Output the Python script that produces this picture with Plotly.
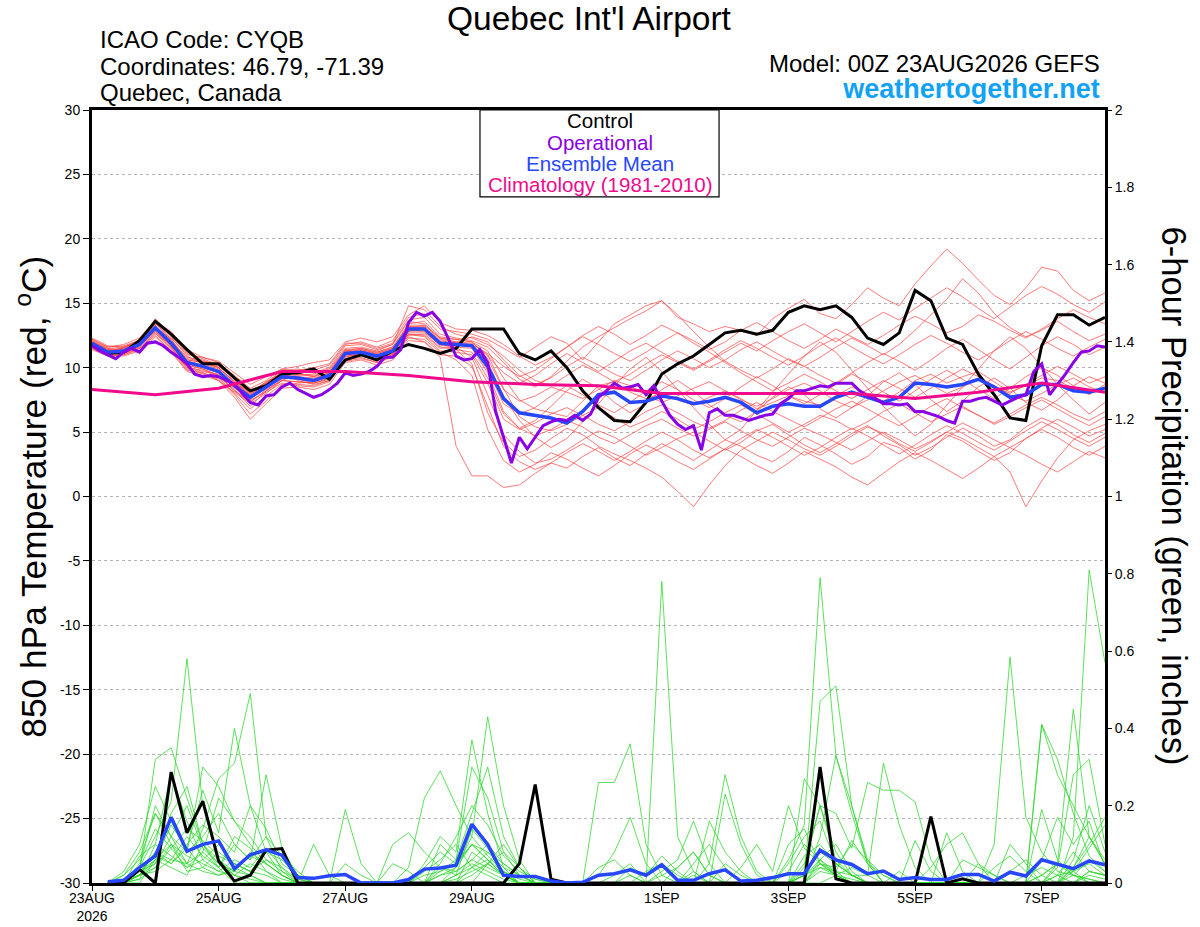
import plotly.graph_objects as go

FONT = "Liberation Sans, Arial, sans-serif"

# forecast hours (6-hourly ensemble, 3-hourly operational, daily climatology)
hours = list(range(0, 385, 6))
hours_op = list(range(0, 385, 3))
precip_hours = hours[1:]
clim_hours = list(range(0, 385, 24))

tick_hours = [0, 48, 96, 144, 216, 264, 312, 360]
tick_text = ["23AUG<br>2026", "25AUG", "27AUG", "29AUG", "1SEP", "3SEP", "5SEP", "7SEP"]

temp_ticks = list(range(-30, 31, 5))
precip_ticks = [0, 0.2, 0.4, 0.6, 0.8, 1.0, 1.2, 1.4, 1.6, 1.8, 2.0]
precip_tick_text = ["0", "0.2", "0.4", "0.6", "0.8", "1", "1.2", "1.4", "1.6", "1.8", "2"]

# ===============================
# 850 hPa temperature (C)
# ===============================
t_control = [11.8, 11.1, 11.2, 12.1, 13.6, 12.6, 11.4, 10.3, 10.3, 9.2, 8.2, 8.6,
             9.5, 9.6, 9.9, 9.1, 10.6, 11.0, 10.6, 11.3, 11.8, 11.5, 11.1, 11.5,
             13.0, 13.0, 13.0, 11.1, 10.6, 11.3, 10.0, 8.2, 6.9, 5.9, 5.8, 7.3,
             9.5, 10.3, 10.9, 11.8, 12.7, 12.9, 12.6, 12.9, 14.3, 14.8, 14.5, 14.8,
             13.9, 12.3, 11.8, 12.7, 16.0, 15.2, 12.3, 11.8, 9.5, 7.9, 6.1, 5.9,
             11.7, 14.1, 14.1, 13.3, 13.9]

t_mean = [11.9, 11.2, 11.3, 11.8, 13.1, 11.9, 10.4, 10.1, 9.7, 8.6, 7.7, 8.5,
          9.3, 9.2, 9.0, 9.4, 11.1, 11.2, 10.9, 11.3, 13.0, 13.0, 11.9, 11.8,
          11.7, 10.1, 7.6, 6.5, 6.3, 6.1, 5.7, 6.6, 7.9, 8.1, 7.3, 7.4,
          7.8, 7.6, 7.2, 7.4, 7.7, 7.3, 6.5, 7.0, 7.2, 7.0, 7.0, 7.7,
          8.1, 7.7, 7.3, 7.7, 8.8, 8.7, 8.5, 8.7, 9.1, 8.5, 7.7, 7.9,
          8.7, 8.7, 8.2, 8.1, 8.4]

t_oper = [11.7, 11.3, 11.0, 10.7, 11.2, 11.5, 11.2, 11.9,
          12.0, 11.7, 11.2, 10.8, 10.3, 9.5, 9.3, 9.4,
          9.3, 9.0, 8.7, 8.0, 7.3, 7.1, 7.8, 7.9,
          8.5, 8.8, 8.3, 8.0, 7.7, 7.9, 8.3, 8.8,
          9.6, 9.4, 9.5, 9.7, 10.1, 10.8, 10.8, 11.4,
          13.5, 14.3, 14.0, 14.3, 13.6, 12.3, 10.9, 10.6,
          10.7, 11.4, 10.4, 6.6, 4.6, 2.6, 4.6, 3.7,
          4.6, 5.5, 5.8, 6.0, 5.9, 6.3, 5.9, 6.4,
          7.7, 8.2, 8.8, 8.4, 8.5, 8.7, 7.9, 8.6,
          7.4, 6.3, 5.6, 5.2, 5.5, 3.6, 6.5, 6.8,
          6.3, 6.3, 6.1, 5.9, 6.1, 6.3, 6.4, 7.2,
          7.6, 8.2, 8.2, 8.4, 8.6, 8.5, 8.8, 8.8,
          8.8, 8.2, 7.8, 7.6, 7.2, 7.2, 7.1, 7.2,
          6.6, 6.6, 6.4, 6.2, 5.9, 5.7, 7.4, 7.4,
          7.6, 7.7, 7.4, 7.1, 7.4, 7.7, 7.9, 9.7,
          10.3, 7.9, 8.7, 9.5, 10.4, 11.2, 11.3, 11.7,
          11.6]

t_clim = [8.3, 7.9, 8.4, 9.7, 9.7, 9.4, 8.9, 8.7, 8.6, 8.0, 8.0, 8.0, 8.0, 7.6, 8.1, 8.8, 8.1]

# ensemble members
t_m01 = [12.1, 11.5, 11.6, 12.0, 13.8, 12.6, 11.2, 10.5, 10.3, 9.4, 8.4, 9.0, 9.9, 9.6, 9.8, 10.2, 11.8, 12.0, 11.6, 12.1, 13.9, 14.2, 13.0, 12.8, 12.6, 12.2,
         11.5, 10.8, 11.6, 12.4, 11.9, 10.6, 12.0, 13.4, 14.1, 14.8, 15.2, 13.9, 13.4, 12.8, 13.2, 12.9, 12.5, 13.8, 14.6, 15.3, 14.2, 13.8, 14.9, 16.2, 15.4, 14.8, 16.5, 17.9, 19.2, 18.1, 16.8, 15.6, 14.9, 16.2, 17.8, 17.5, 16.0, 15.2, 15.8]
t_m02 = [11.6, 11.0, 11.4, 11.9, 12.8, 11.5, 10.0, 9.6, 9.0, 8.1, 7.2, 8.0, 9.0, 9.5, 9.3, 9.8, 11.4, 11.0, 10.6, 11.0, 12.4, 12.0, 10.8, 3.9, 1.6, 1.6,
         0.7, 0.9, 1.8, 2.6, 2.2, 3.1, 3.8, 3.0, 2.4, 3.3, 4.1, 3.5, 2.8, 3.6, 4.4, 3.9, 3.2, 2.7, 3.5, 4.6, 4.0, 3.3, 2.5, 3.1, 4.2, 3.8, 2.9, 3.6, 4.8, 4.3, 3.5, 2.8, 3.4, 4.5, 5.2, 4.6, 3.8, 3.2, 3.9]
t_m03 = [12.0, 11.4, 11.2, 11.6, 12.9, 12.2, 10.6, 10.4, 10.0, 8.9, 7.9, 8.8, 9.6, 9.0, 8.7, 9.0, 10.7, 11.0, 10.5, 11.0, 12.6, 12.5, 11.5, 11.6, 10.8, 7.9,
         4.8, 3.5, 2.6, 2.9, 3.6, 4.4, 5.1, 4.6, 3.9, 3.2, 3.8, 4.5, 5.0, 4.3, 3.6, 4.2, 5.1, 5.6, 4.8, 4.0, 3.4, 4.1, 4.9, 5.5, 4.7, 4.0, 3.2, 3.8, 4.6, 5.3, 4.7, 3.9, 4.4, 5.4, 6.1, 5.6, 4.8, 4.2, 4.9]
t_m04 = [11.7, 11.1, 11.5, 12.2, 13.5, 12.0, 10.2, 9.9, 9.4, 8.3, 7.0, 8.2, 9.1, 9.4, 9.5, 9.9, 11.5, 11.6, 11.3, 11.8, 13.6, 13.4, 12.3, 12.0, 11.9, 11.0,
         8.4, 6.2, 5.4, 5.1, 5.6, 6.3, 6.9, 6.1, 5.4, 5.9, 6.6, 6.0, 5.2, 5.8, 6.5, 7.1, 6.4, 5.7, 5.0, 5.6, 6.3, 5.9, 5.2, 5.8, 6.6, 7.2, 6.5, 5.8, 6.4, 7.0, 6.3, 5.6, 6.2, 6.9, 7.5, 6.8, 6.1, 5.5, 6.2]
t_m05 = [12.2, 11.6, 11.7, 12.1, 13.3, 11.6, 10.1, 9.7, 9.5, 8.8, 8.1, 8.9, 9.5, 9.2, 9.1, 9.6, 11.3, 11.5, 11.2, 11.6, 13.4, 13.6, 12.4, 12.2, 12.0, 11.3,
         9.2, 7.5, 6.8, 6.5, 6.2, 7.4, 8.6, 8.9, 8.1, 7.6, 8.0, 7.5, 7.1, 7.7, 8.2, 7.6, 6.8, 7.3, 7.8, 7.4, 7.1, 7.8, 8.5, 8.0, 7.4, 8.1, 9.0, 9.5, 8.8, 9.3, 9.7, 8.9, 8.1, 8.6, 9.2, 9.0, 8.4, 8.1, 8.5]
t_m06 = [11.8, 11.3, 11.5, 12.0, 13.0, 12.3, 11.0, 10.8, 10.5, 9.6, 8.7, 9.3, 9.9, 10.1, 10.4, 10.6, 12.0, 12.3, 12.0, 12.4, 14.1, 14.8, 13.5, 13.0, 12.9, 12.5,
         11.8, 10.9, 10.2, 10.8, 11.6, 12.4, 11.8, 11.1, 10.5, 11.2, 12.0, 12.7, 12.1, 11.4, 12.0, 12.9, 13.5, 12.8, 12.1, 11.5, 12.2, 13.0, 12.4, 11.8, 12.5, 13.3, 14.0, 13.4, 12.7, 13.2, 14.1, 13.6, 12.9, 12.3, 13.0, 13.8, 14.5, 13.9, 13.4]
t_m07 = [11.5, 10.9, 11.0, 11.4, 12.6, 11.8, 10.5, 10.2, 9.8, 8.5, 7.5, 8.1, 8.8, 8.6, 8.5, 8.9, 10.6, 10.8, 10.4, 10.9, 12.5, 12.6, 11.6, 11.4, 11.2, 9.2,
         6.4, 5.3, 5.9, 7.0, 8.2, 9.1, 8.4, 7.3, 6.5, 7.2, 8.3, 9.0, 8.2, 7.1, 6.3, 5.8, 6.6, 7.7, 8.5, 7.9, 6.8, 6.1, 6.9, 7.8, 8.9, 9.6, 8.7, 7.5, 6.6, 7.4, 8.5, 9.2, 8.4, 7.3, 6.7, 7.5, 8.6, 9.3, 8.8]
t_m08 = [12.3, 11.7, 11.6, 11.9, 13.2, 12.1, 10.8, 10.6, 10.1, 9.2, 8.3, 8.7, 9.4, 9.3, 9.2, 9.5, 11.2, 11.4, 11.1, 11.5, 13.2, 13.1, 12.0, 11.9, 12.4, 12.0,
         10.6, 9.4, 8.7, 9.2, 10.1, 10.8, 10.2, 9.5, 9.0, 9.8, 10.6, 11.3, 10.7, 10.0, 10.6, 11.4, 12.0, 11.3, 10.6, 10.1, 10.8, 11.6, 12.3, 11.7, 11.0, 11.8, 12.9, 14.1, 15.3, 16.9, 15.8, 14.2, 13.1, 12.4, 12.9, 13.6, 12.8, 12.1, 12.6]
t_m09 = [11.9, 11.3, 11.1, 11.5, 12.7, 11.4, 9.9, 9.5, 9.1, 7.9, 6.4, 7.4, 8.6, 8.8, 8.9, 9.3, 10.9, 11.0, 10.7, 11.1, 12.8, 12.9, 11.9, 11.4, 10.3, 6.5,
         4.2, 3.1, 3.6, 4.5, 5.3, 4.8, 3.9, 3.3, 2.8, 2.2, 1.5, 0.4, -0.8, 0.9, 2.4, 3.6, 4.3, 5.0, 4.4, 3.7, 3.2, 3.9, 4.7, 5.4, 4.9, 4.1, 3.5, 4.2, 5.0, 5.7, 5.1, 4.4, 3.8, 4.5, 5.3, 6.0, 5.4, 4.7, 5.2]
t_m10 = [11.6, 11.2, 11.4, 11.7, 12.9, 11.7, 10.3, 10.0, 9.6, 8.4, 7.6, 8.4, 9.2, 9.1, 8.8, 9.2, 11.0, 11.1, 10.8, 11.2, 12.9, 12.8, 11.7, 11.7, 11.8, 10.7,
         8.3, 7.4, 7.8, 8.5, 8.1, 7.6, 8.3, 9.0, 8.6, 7.9, 7.3, 7.8, 8.4, 8.9, 8.2, 7.5, 7.0, 7.6, 8.3, 8.8, 8.2, 7.4, 6.9, 7.5, 8.2, 8.9, 9.4, 8.7, 8.0, 8.5, 9.1, 8.6, 7.9, 7.4, 8.0, 8.7, 9.2, 8.5, 8.1]
t_m11 = [12.0, 11.5, 11.3, 11.8, 13.4, 12.4, 10.9, 10.3, 9.9, 9.0, 8.0, 8.6, 9.7, 9.8, 10.0, 10.3, 11.9, 11.9, 11.5, 11.9, 13.7, 13.9, 12.6, 12.3, 12.1, 11.6,
         10.4, 9.1, 8.5, 9.3, 10.5, 11.6, 12.4, 13.1, 13.8, 14.4, 15.2, 14.1, 12.8, 11.6, 10.5, 9.8, 9.2, 9.9, 10.7, 10.1, 9.4, 8.8, 9.6, 10.4, 11.1, 10.5, 9.8, 10.6, 11.5, 12.2, 11.4, 10.6, 9.9, 10.8, 11.7, 12.4, 11.8, 11.0, 11.6]
t_m12 = [11.8, 11.0, 11.2, 11.7, 13.0, 11.6, 10.0, 9.8, 9.3, 8.2, 7.3, 8.3, 9.0, 8.9, 8.8, 9.1, 10.8, 11.2, 10.9, 11.1, 12.7, 12.7, 11.8, 11.6, 11.5, 9.6,
         6.6, 5.3, 4.7, 5.2, 5.9, 5.4, 4.6, 4.1, 4.8, 5.5, 6.0, 5.3, 4.7, 5.2, 5.8, 5.1, 4.4, 3.9, 4.6, 5.3, 4.8, 4.2, 3.6, 4.3, 5.0, 4.4, 3.7, 4.3, 5.0, 4.5, 3.8, 3.1, 1.9, -0.8, 1.2, 3.0, 4.4, 5.1, 5.6]
t_m13 = [12.1, 11.4, 11.3, 11.9, 13.6, 12.8, 11.4, 10.8, 10.4, 9.3, 8.2, 8.8, 9.8, 9.9, 9.6, 10.0, 11.7, 11.8, 11.4, 11.8, 14.8, 14.5, 13.2, 12.6, 12.3, 11.8,
         10.9, 9.8, 9.0, 8.6, 9.4, 10.2, 9.6, 8.9, 9.5, 10.3, 11.0, 10.4, 9.8, 10.5, 11.2, 11.9, 11.3, 12.1, 12.8, 13.4, 12.7, 12.0, 12.8, 13.6, 14.3, 13.7, 14.6, 15.4, 16.2, 15.5, 14.6, 13.8, 14.7, 15.6, 16.3, 15.7, 14.9, 14.3, 15.1]
t_m14 = [11.7, 11.2, 11.0, 11.5, 12.5, 11.3, 9.8, 9.6, 9.2, 8.0, 6.8, 7.8, 8.7, 8.7, 8.6, 9.0, 10.5, 10.7, 10.4, 10.8, 12.3, 12.2, 11.2, 10.6, 9.4, 5.2,
         2.8, 1.9, 2.5, 3.4, 2.9, 2.2, 1.6, 2.4, 3.3, 4.0, 3.4, 2.7, 2.1, 2.9, 3.7, 3.1, 2.4, 1.8, 2.6, 3.5, 2.9, 2.3, 1.5, 0.9, 1.8, 2.7, 3.4, 2.8, 2.1, 1.4, 2.2, 3.1, 3.8, 3.2, 2.5, 1.9, 2.7, 3.5, 3.0]
t_m15 = [11.9, 11.3, 11.4, 11.8, 13.0, 11.9, 10.5, 10.2, 9.7, 8.7, 7.8, 8.6, 9.4, 9.3, 9.1, 9.5, 11.2, 11.3, 11.0, 11.4, 13.1, 13.2, 12.1, 11.9, 11.6, 9.8,
         7.2, 6.4, 6.9, 7.8, 8.6, 7.9, 7.1, 6.5, 7.3, 8.2, 8.9, 8.3, 7.5, 6.9, 7.6, 8.5, 9.3, 8.6, 7.8, 7.2, 7.9, 8.7, 9.5, 8.9, 8.1, 7.4, 8.2, 9.1, 9.8, 9.1, 8.3, 7.6, 8.4, 9.3, 10.0, 9.4, 8.6, 7.9, 8.7]
t_m16 = [12.2, 11.6, 11.8, 12.3, 13.7, 12.5, 11.1, 10.7, 10.2, 9.1, 8.0, 8.9, 9.6, 9.5, 9.4, 9.7, 11.4, 11.5, 11.2, 11.6, 13.3, 13.3, 12.3, 12.2, 12.0, 10.9,
         9.6, 8.8, 9.4, 10.3, 11.1, 10.4, 9.7, 10.5, 11.3, 11.9, 11.2, 10.5, 9.9, 10.6, 11.4, 12.1, 11.5, 10.8, 10.2, 10.9, 11.7, 12.3, 11.6, 10.9, 10.3, 11.0, 11.8, 12.5, 11.9, 11.2, 10.6, 11.3, 12.1, 12.8, 12.2, 11.5, 10.9, 11.6, 12.2]
t_m17 = [11.4, 10.9, 11.1, 11.6, 12.8, 11.7, 10.2, 9.9, 9.4, 8.2, 7.4, 8.2, 9.0, 8.9, 8.8, 9.2, 10.9, 11.0, 10.6, 11.0, 12.6, 12.4, 11.3, 11.2, 11.0, 8.8,
         6.0, 5.2, 5.7, 6.4, 6.9, 6.3, 5.6, 5.1, 5.8, 6.6, 7.1, 6.5, 5.8, 5.3, 5.9, 6.7, 7.3, 6.6, 6.0, 5.4, 6.1, 6.8, 7.4, 6.8, 6.1, 5.5, 6.2, 7.0, 7.6, 6.9, 6.3, 5.7, 6.4, 7.1, 7.7, 7.1, 6.4, 5.9, 6.6]
t_m18 = [12.0, 11.2, 11.6, 12.1, 13.2, 12.0, 10.7, 10.5, 10.0, 8.8, 7.9, 8.7, 9.5, 9.6, 9.3, 9.6, 11.3, 11.4, 11.1, 11.5, 13.2, 13.0, 12.0, 11.9, 11.7, 10.4,
         7.8, 5.9, 4.6, 3.8, 4.5, 5.8, 7.2, 8.6, 9.9, 10.8, 9.7, 8.3, 6.9, 5.6, 4.4, 5.2, 6.7, 8.1, 9.5, 10.9, 12.0, 11.2, 9.8, 8.4, 7.0, 5.8, 4.7, 5.6, 7.1, 8.5, 9.9, 11.3, 12.4, 11.5, 10.1, 8.7, 7.5, 6.4, 7.3]
t_m19 = [11.8, 11.4, 11.5, 12.0, 13.5, 12.2, 10.6, 10.4, 10.0, 8.9, 7.8, 8.6, 9.4, 9.1, 9.0, 9.4, 11.0, 11.3, 11.0, 11.4, 13.1, 13.3, 12.2, 12.0, 11.8, 11.1,
         10.1, 9.3, 9.8, 10.7, 11.6, 12.5, 13.2, 12.6, 11.8, 12.5, 13.3, 12.7, 11.9, 11.2, 10.4, 9.6, 8.9, 8.2, 8.8, 9.5, 8.9, 8.2, 7.6, 8.3, 9.0, 8.4, 7.7, 8.4, 9.2, 9.9, 9.3, 8.6, 8.0, 8.7, 9.4, 10.1, 9.5, 8.8, 9.3]
t_m20 = [11.5, 11.0, 10.9, 11.3, 12.4, 11.2, 9.7, 9.4, 9.0, 7.7, 6.0, 7.2, 8.4, 8.5, 8.3, 8.7, 10.4, 10.6, 10.2, 10.6, 12.1, 12.0, 11.0, 10.9, 10.1, 7.0,
         3.9, 2.7, 2.1, 2.6, 3.4, 4.1, 3.5, 2.8, 3.5, 4.3, 5.0, 4.4, 3.6, 3.0, 3.7, 4.5, 5.2, 4.6, 3.9, 3.2, 3.8, 4.6, 5.3, 4.7, 4.0, 3.3, 4.0, 4.8, 5.5, 4.9, 4.2, 3.6, 4.3, 5.1, 5.8, 5.2, 4.5, 3.9, 4.6]

temp_members = [t_m01, t_m02, t_m03, t_m04, t_m05, t_m06, t_m07, t_m08, t_m09, t_m10,
                t_m11, t_m12, t_m13, t_m14, t_m15, t_m16, t_m17, t_m18, t_m19, t_m20]

# ===============================
# 6-hour precipitation (inches), from hour 6
# ===============================
p_control = [0, 0, 0.035, 0, 0.287, 0.13, 0.212, 0.057, 0.005, 0.02, 0.085, 0.089,
             0, 0, 0, 0, 0, 0, 0, 0, 0, 0, 0, 0,
             0, 0, 0.05, 0.255, 0.01, 0, 0, 0, 0, 0, 0, 0,
             0, 0, 0, 0, 0, 0, 0, 0, 0, 0.30, 0.011, 0,
             0, 0, 0, 0, 0.172, 0, 0.011, 0, 0, 0, 0, 0,
             0, 0, 0, 0]

p_mean = [0.003, 0.007, 0.04, 0.07, 0.17, 0.082, 0.10, 0.109, 0.037, 0.073, 0.086, 0.072,
          0.014, 0.012, 0.019, 0.022, 0, 0, 0, 0.009, 0.036, 0.039, 0.046, 0.152,
          0.10, 0.02, 0.017, 0.017, 0.005, 0, 0.002, 0.02, 0.024, 0.034, 0.02, 0.047,
          0.007, 0.007, 0.024, 0.034, 0.005, 0.007, 0.014, 0.024, 0.024, 0.085, 0.06, 0.048,
          0.024, 0.031, 0.009, 0.014, 0.009, 0.009, 0.022, 0.022, 0.005, 0.028, 0.018, 0.06,
          0.048, 0.037, 0.057, 0.047]

p_m01 = [0, 0, 0.04, 0.12, 0.21, 0.58, 0.20, 0.06, 0.02, 0, 0, 0, 0, 0, 0, 0, 0, 0, 0, 0, 0.05, 0.12, 0.08, 0.37, 0.18, 0.04, 0, 0, 0, 0, 0, 0,
         0.02, 0.05, 0, 0.78, 0.12, 0.03, 0, 0, 0, 0, 0, 0, 0.04, 0.20, 0.08, 0.02, 0, 0, 0, 0, 0, 0, 0, 0, 0, 0.03, 0.06, 0.02, 0, 0.04, 0.12, 0.05]
p_m02 = [0, 0.02, 0.08, 0.18, 0.10, 0.05, 0.14, 0.27, 0.31, 0.49, 0.12, 0.03, 0, 0, 0, 0, 0, 0, 0, 0, 0, 0, 0.04, 0.10, 0.06, 0.02, 0, 0, 0, 0, 0, 0,
         0, 0, 0, 0.02, 0.04, 0.08, 0.02, 0, 0, 0, 0, 0.06, 0.15, 0.79, 0.33, 0.18, 0.05, 0, 0.03, 0, 0, 0, 0, 0, 0, 0, 0, 0.02, 0.05, 0.03, 0, 0]
p_m03 = [0, 0, 0.03, 0.32, 0.35, 0.22, 0.10, 0.04, 0, 0, 0, 0, 0, 0, 0, 0, 0, 0, 0, 0.04, 0.22, 0.29, 0.20, 0.12, 0.43, 0.20, 0.06, 0, 0, 0, 0, 0,
         0, 0, 0, 0, 0, 0, 0.05, 0.28, 0.12, 0.03, 0, 0, 0, 0.05, 0.02, 0, 0, 0, 0, 0, 0, 0, 0, 0, 0, 0, 0, 0.41, 0.32, 0.18, 0.07, 0.03]
p_m04 = [0, 0, 0, 0.06, 0.15, 0.09, 0.24, 0.13, 0.40, 0.20, 0.08, 0.02, 0, 0, 0, 0.19, 0.05, 0, 0, 0, 0, 0.03, 0.06, 0.30, 0.22, 0.08, 0.02, 0, 0, 0, 0, 0.26,
         0.26, 0.36, 0.10, 0.02, 0, 0, 0, 0, 0, 0, 0, 0, 0.02, 0.47, 0.51, 0.20, 0.06, 0, 0, 0, 0, 0, 0, 0, 0, 0.10, 0.05, 0, 0, 0.12, 0.81, 0.57]
p_m05 = [0, 0.03, 0.10, 0.25, 0.16, 0.08, 0.12, 0.18, 0.10, 0.06, 0.28, 0.09, 0.02, 0, 0, 0, 0, 0, 0, 0, 0, 0, 0, 0, 0.05, 0.10, 0.04, 0, 0, 0, 0, 0.02,
         0.08, 0.17, 0.05, 0, 0, 0, 0.16, 0.08, 0.03, 0, 0, 0, 0.05, 0.20, 0.18, 0.09, 0.26, 0.24, 0.24, 0.21, 0.06, 0, 0, 0, 0, 0, 0, 0.19, 0.06, 0.02, 0, 0]
p_m06 = [0, 0, 0.05, 0.14, 0.09, 0.04, 0.08, 0.22, 0.16, 0.12, 0.06, 0.03, 0.01, 0, 0, 0, 0, 0, 0.10, 0.13, 0.08, 0.04, 0.02, 0.14, 0.09, 0.03, 0, 0, 0, 0, 0, 0,
         0, 0.04, 0.02, 0.07, 0.03, 0, 0, 0.23, 0.10, 0.02, 0, 0, 0, 0.12, 0.33, 0.20, 0.05, 0, 0, 0.11, 0.03, 0, 0, 0, 0, 0, 0, 0, 0.04, 0.28, 0.32, 0.10]
p_m07 = [0, 0.02, 0.06, 0.18, 0.12, 0.20, 0.09, 0.05, 0.03, 0.02, 0, 0, 0, 0.10, 0.02, 0, 0, 0, 0, 0, 0.04, 0.08, 0.05, 0.10, 0.06, 0.02, 0, 0, 0, 0, 0, 0,
         0, 0.02, 0, 0.03, 0.06, 0.16, 0.05, 0, 0, 0, 0, 0, 0.27, 0.20, 0.06, 0.02, 0, 0, 0, 0, 0, 0.13, 0.03, 0, 0, 0, 0, 0, 0, 0.06, 0.20, 0.08]
p_m08 = [0, 0, 0.02, 0.08, 0.05, 0.10, 0.15, 0.12, 0.08, 0.20, 0.14, 0.05, 0.02, 0, 0, 0, 0, 0, 0, 0, 0, 0.05, 0.12, 0.20, 0.15, 0.07, 0.03, 0.01, 0, 0, 0, 0,
         0, 0, 0.03, 0.05, 0.02, 0, 0, 0, 0.04, 0.10, 0.03, 0.20, 0.09, 0.05, 0.02, 0, 0, 0, 0, 0, 0.04, 0.10, 0.13, 0.05, 0, 0, 0, 0.06, 0.17, 0.10, 0.16, 0.04]
p_m09 = [0, 0, 0.07, 0.10, 0.28, 0.16, 0.06, 0.10, 0.05, 0.03, 0.08, 0.06, 0.02, 0, 0, 0, 0, 0, 0, 0, 0, 0.10, 0.06, 0.18, 0.30, 0.12, 0.04, 0, 0, 0, 0, 0,
         0, 0, 0, 0, 0, 0.05, 0.10, 0.04, 0, 0, 0, 0, 0.07, 0.10, 0.05, 0.02, 0.02, 0.31, 0.15, 0.04, 0, 0, 0, 0, 0, 0, 0, 0, 0, 0.03, 0.09, 0.15]
p_m10 = [0, 0, 0.03, 0.05, 0.12, 0.08, 0.30, 0.25, 0.16, 0.10, 0.05, 0.02, 0, 0, 0, 0, 0, 0, 0, 0, 0, 0, 0, 0.08, 0.05, 0.02, 0, 0, 0, 0, 0, 0,
         0, 0, 0, 0, 0, 0, 0, 0, 0, 0, 0, 0.03, 0.10, 0.06, 0.02, 0, 0, 0, 0, 0, 0, 0, 0, 0, 0.10, 0.585, 0.17, 0.08, 0.03, 0.02, 0.01, 0]
p_m11 = [0, 0, 0.02, 0.04, 0.10, 0.07, 0.05, 0.03, 0.06, 0.04, 0.09, 0.04, 0, 0, 0, 0, 0, 0, 0, 0, 0.02, 0.03, 0.05, 0.10, 0.08, 0.04, 0.02, 0, 0, 0, 0, 0,
         0, 0, 0, 0, 0.04, 0.08, 0.02, 0, 0, 0, 0, 0.10, 0.14, 0.05, 0.04, 0.10, 0.06, 0.02, 0, 0, 0, 0, 0, 0, 0, 0, 0, 0.02, 0.05, 0.45, 0.12, 0.05]
p_m12 = [0, 0, 0.04, 0.20, 0.12, 0.05, 0.03, 0.02, 0.04, 0.02, 0, 0, 0, 0, 0, 0, 0, 0, 0, 0, 0, 0.04, 0.03, 0.06, 0.10, 0.05, 0.02, 0, 0, 0, 0, 0,
         0, 0, 0, 0, 0, 0, 0, 0, 0, 0, 0, 0, 0.02, 0.06, 0.03, 0.11, 0.05, 0.02, 0, 0, 0, 0, 0, 0, 0, 0, 0, 0.41, 0.28, 0.20, 0.12, 0.06]
p_m13 = [0, 0, 0.02, 0.08, 0.06, 0.12, 0.07, 0.04, 0.10, 0.06, 0.12, 0.07, 0.03, 0, 0, 0.05, 0.02, 0, 0, 0, 0, 0, 0, 0.04, 0.08, 0.05, 0.02, 0, 0, 0, 0, 0,
         0, 0, 0, 0, 0, 0.02, 0, 0, 0, 0, 0, 0.05, 0.12, 0.16, 0.05, 0.02, 0, 0, 0, 0, 0, 0, 0.06, 0.04, 0.02, 0, 0, 0, 0.02, 0.08, 0.03, 0.02]
p_m14 = [0, 0, 0.01, 0.04, 0.09, 0.14, 0.11, 0.07, 0.05, 0.03, 0.02, 0, 0, 0, 0, 0, 0, 0, 0, 0, 0, 0.02, 0.04, 0.12, 0.07, 0.03, 0, 0, 0, 0, 0, 0,
         0, 0, 0, 0, 0, 0, 0, 0.05, 0.02, 0, 0, 0, 0, 0.04, 0.02, 0, 0, 0, 0, 0, 0, 0, 0, 0, 0.04, 0.07, 0.03, 0, 0, 0.02, 0.06, 0.03]
p_m15 = [0, 0, 0.03, 0.06, 0.04, 0.02, 0.10, 0.06, 0.03, 0.08, 0.05, 0.02, 0, 0, 0, 0, 0, 0, 0.05, 0.03, 0, 0, 0.02, 0.05, 0.03, 0.01, 0, 0, 0, 0, 0, 0,
         0, 0, 0, 0, 0, 0, 0, 0, 0, 0, 0, 0, 0.02, 0.05, 0.03, 0.02, 0, 0, 0, 0, 0, 0, 0, 0, 0, 0, 0, 0, 0, 0.04, 0.10, 0.17]
p_m16 = [0, 0.01, 0.02, 0.05, 0.18, 0.25, 0.10, 0.05, 0.02, 0.01, 0, 0, 0, 0, 0, 0, 0, 0, 0, 0, 0.03, 0.06, 0.10, 0.04, 0.02, 0, 0, 0, 0, 0, 0, 0.04,
         0.06, 0.02, 0, 0, 0, 0, 0, 0, 0, 0, 0, 0, 0, 0.06, 0.10, 0.03, 0, 0, 0, 0, 0, 0, 0, 0.05, 0.02, 0, 0, 0, 0, 0, 0.03, 0.02]
p_m17 = [0, 0, 0.02, 0.03, 0.06, 0.05, 0.08, 0.04, 0.12, 0.09, 0.03, 0.01, 0, 0, 0, 0, 0, 0, 0, 0, 0, 0, 0, 0.02, 0.05, 0.02, 0, 0, 0, 0, 0, 0,
         0, 0, 0, 0, 0, 0, 0, 0, 0, 0, 0, 0, 0.03, 0.08, 0.05, 0.02, 0, 0, 0, 0, 0, 0, 0, 0, 0, 0, 0, 0, 0.05, 0.02, 0.01, 0]
p_m18 = [0, 0, 0.01, 0.10, 0.07, 0.04, 0.06, 0.03, 0.02, 0.05, 0.03, 0, 0, 0, 0, 0, 0, 0, 0, 0, 0, 0.02, 0.03, 0.06, 0.04, 0.02, 0, 0, 0, 0, 0, 0,
         0, 0, 0, 0, 0, 0.03, 0, 0, 0, 0, 0, 0, 0.02, 0.04, 0.03, 0, 0, 0, 0, 0, 0, 0, 0, 0, 0, 0, 0.02, 0.04, 0.02, 0, 0.02, 0.01]
p_m19 = [0, 0, 0.02, 0.06, 0.10, 0.03, 0.04, 0.08, 0.05, 0.03, 0.06, 0.04, 0.01, 0, 0, 0, 0, 0, 0, 0, 0, 0, 0.02, 0.04, 0.06, 0.03, 0.01, 0, 0, 0, 0, 0,
         0, 0, 0, 0, 0, 0, 0, 0, 0, 0, 0, 0, 0, 0, 0.02, 0.04, 0.02, 0, 0, 0, 0, 0, 0, 0, 0, 0, 0, 0, 0, 0, 0.03, 0.02]
p_m20 = [0, 0, 0.03, 0.07, 0.05, 0.09, 0.04, 0.02, 0.03, 0.07, 0.05, 0.02, 0, 0, 0, 0, 0, 0, 0, 0, 0, 0, 0.01, 0.03, 0.05, 0.08, 0.04, 0.01, 0, 0, 0, 0,
         0, 0, 0, 0, 0, 0, 0, 0, 0, 0, 0, 0, 0, 0.03, 0.02, 0.01, 0, 0, 0, 0, 0, 0, 0, 0, 0, 0, 0, 0, 0.02, 0.03, 0.05, 0.02]

precip_members = [p_m01, p_m02, p_m03, p_m04, p_m05, p_m06, p_m07, p_m08, p_m09, p_m10,
                  p_m11, p_m12, p_m13, p_m14, p_m15, p_m16, p_m17, p_m18, p_m19, p_m20]

# cores
RED = "rgba(255,70,70,0.9)"
GREEN = "rgba(40,215,40,0.95)"
PURPLE = "#8a00e6"
BLUE = "#2746ff"
PINK = "#f00a8c"
SITE = "#12a2f4"

fig = go.Figure()

# membros do ensemble - temperatura
for m in temp_members:
    fig.add_trace(go.Scatter(x=hours, y=m, mode="lines",
                             line=dict(color=RED, width=0.8), hoverinfo="skip"))

# membros do ensemble - precipitacao
for m in precip_members:
    fig.add_trace(go.Scatter(x=precip_hours, y=m, mode="lines", yaxis="y2",
                             line=dict(color=GREEN, width=0.8), hoverinfo="skip"))

# controle
fig.add_trace(go.Scatter(x=precip_hours, y=p_control, mode="lines", yaxis="y2",
                         line=dict(color="black", width=3)))
fig.add_trace(go.Scatter(x=hours, y=t_control, mode="lines",
                         line=dict(color="black", width=3)))

# media do ensemble
fig.add_trace(go.Scatter(x=precip_hours, y=p_mean, mode="lines", yaxis="y2",
                         line=dict(color=BLUE, width=3.5)))
fig.add_trace(go.Scatter(x=hours, y=t_mean, mode="lines",
                         line=dict(color=BLUE, width=3.5)))

# operacional
fig.add_trace(go.Scatter(x=hours_op, y=t_oper, mode="lines",
                         line=dict(color=PURPLE, width=3)))

# climatologia
fig.add_trace(go.Scatter(x=clim_hours, y=t_clim, mode="lines",
                         line=dict(color=PINK, width=3)))

# legenda (caixa)
fig.add_shape(type="rect", xref="paper", yref="paper", x0=0.383, x1=0.619, y0=0.8875, y1=1.0,
              line=dict(color="black", width=1.2), fillcolor="white", layer="above")

legend_items = [("Control", "black", 0.9858), ("Operational", PURPLE, 0.9586),
                ("Ensemble Mean", BLUE, 0.9314), ("Climatology (1981-2010)", PINK, 0.9030)]
annotations = []
for txt, col, yy in legend_items:
    annotations.append(dict(text=txt, x=0.5015, y=yy, xref="paper", yref="paper",
                            xanchor="center", yanchor="middle", showarrow=False,
                            font=dict(family=FONT, size=20.5, color=col)))

# bloco da direita: modelo + site numa so anotacao (duas linhas)
model_block = ("<span style='font-size:24px'>Model: 00Z 23AUG2026 GEFS</span><br>"
               "<span style='font-size:27px;color:" + SITE + "'><b>weathertogether.net</b></span>")

annotations += [
    dict(text="Quebec Int'l Airport", x=0.4916, y=1.1185, xref="paper", yref="paper",
         xanchor="center", yanchor="middle", showarrow=False, borderpad=0,
         font=dict(family=FONT, size=33.5)),
    dict(text="ICAO Code: CYQB", x=0.0059, y=1.0918, xref="paper", yref="paper",
         xanchor="left", yanchor="middle", showarrow=False, font=dict(family=FONT, size=24)),
    dict(text="Coordinates: 46.79, -71.39", x=0.0059, y=1.0569, xref="paper", yref="paper",
         xanchor="left", yanchor="middle", showarrow=False, font=dict(family=FONT, size=24)),
    dict(text="Quebec, Canada", x=0.0059, y=1.022, xref="paper", yref="paper",
         xanchor="left", yanchor="middle", showarrow=False, font=dict(family=FONT, size=24)),
    dict(text=model_block, x=0.997, y=1.0427, xref="paper", yref="paper",
         xanchor="right", yanchor="middle", align="right", showarrow=False,
         font=dict(family=FONT, size=20)),
    dict(text="850 hPa Temperature (red, <sup>o</sup>C)", x=-0.061, y=0.5, xref="paper", yref="paper",
         xanchor="center", yanchor="middle", textangle=-90, showarrow=False,
         font=dict(family=FONT, size=35.3)),
    dict(text="6-hour Precipitation (green, inches)", x=1.069, y=0.5, xref="paper", yref="paper",
         xanchor="center", yanchor="middle", textangle=90, showarrow=False,
         font=dict(family=FONT, size=34.5)),
]

fig.update_layout(
    width=1200, height=927,
    margin=dict(l=92, r=95, t=110, b=44, autoexpand=False),
    paper_bgcolor="white", plot_bgcolor="white",
    showlegend=False,
    font=dict(family=FONT, size=14, color="black"),
    annotations=annotations,
    xaxis=dict(range=[0, 384], tickvals=tick_hours, ticktext=tick_text,
               ticks="outside", ticklen=5, tickcolor="black", automargin=False,
               ticklabelstandoff=-5,
               showline=True, linewidth=3, linecolor="black", mirror=True,
               showgrid=False, zeroline=False, tickfont=dict(size=14)),
    yaxis=dict(range=[-30, 30], tickvals=temp_ticks, ticktext=[str(v) for v in temp_ticks],
               ticks="outside", ticklen=6, tickcolor="black", automargin=False,
               showline=True, linewidth=3, linecolor="black", mirror=True,
               showgrid=True, gridcolor="#b4b4b4", griddash="dot", gridwidth=1,
               zeroline=False, tickfont=dict(size=14)),
    yaxis2=dict(range=[0, 2], overlaying="y", side="right", automargin=False,
                tickvals=precip_ticks, ticktext=precip_tick_text,
                ticks="outside", ticklen=6, tickcolor="black",
                showgrid=False, zeroline=False, showline=False, tickfont=dict(size=14)),
)

# tira a margem padrao do body para a figura ficar no canto da pagina
fig.write_html("out.html", config={"displayModeBar": False},
               post_script="document.body.style.margin='0px';")
